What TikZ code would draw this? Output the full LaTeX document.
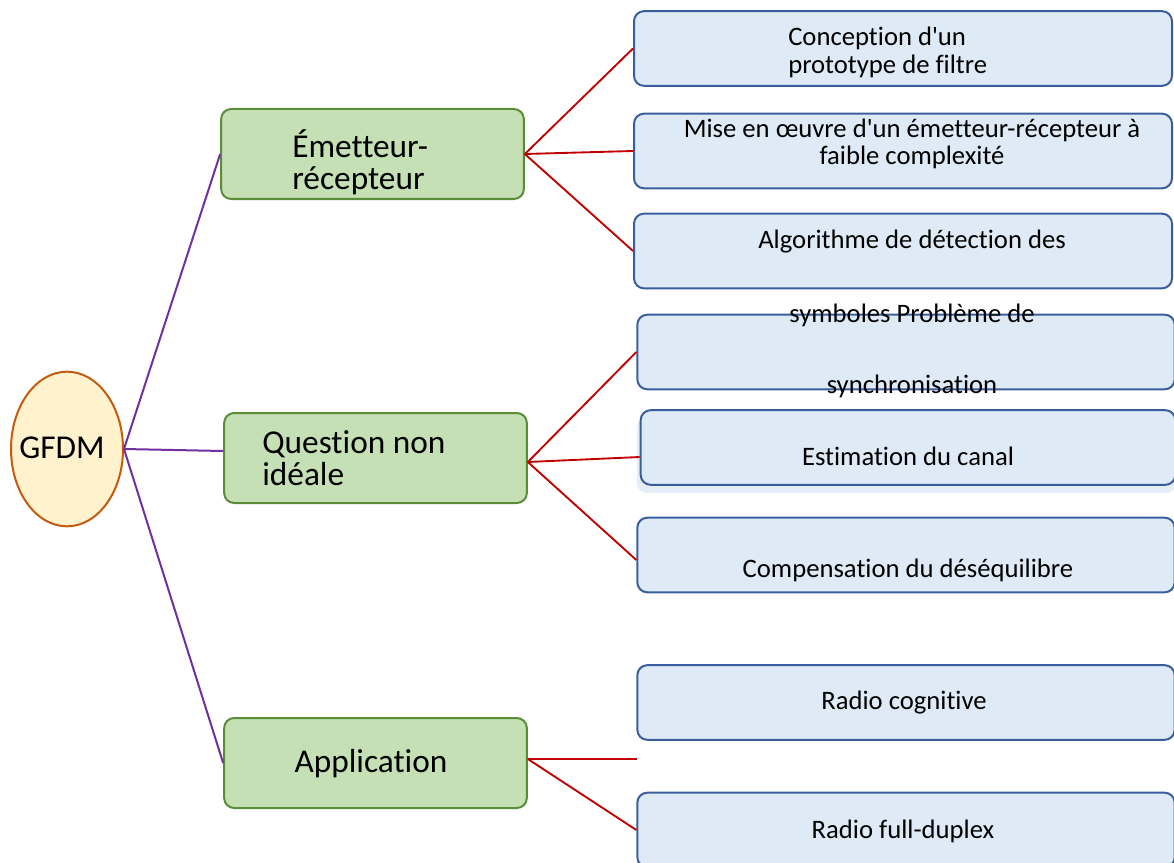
\documentclass[tikz,border=0pt]{standalone}
\usepackage{fontspec}
\newfontfamily\calfont{Carlito}[Ligatures=NoCommon]
\usetikzlibrary{calc,shapes.geometric}
\definecolor{gfill}{HTML}{C5E0B4}
\definecolor{gdraw}{HTML}{5B8C3A}
\definecolor{bfill}{HTML}{DEEBF7}
\definecolor{bshadow}{HTML}{E4EDF8}
\definecolor{bdraw}{HTML}{3A5E9B}
\definecolor{efill}{HTML}{FFF2CC}
\definecolor{edraw}{HTML}{C55A11}
\definecolor{purp}{HTML}{7030A0}
\definecolor{redl}{HTML}{C00000}
\tikzset{
  greenbox/.style={draw=gdraw, fill=gfill, line width=1.5pt, rounded corners=7.5pt, inner sep=0pt},
  bluebox/.style={draw=bdraw, fill=bfill, line width=1.5pt, rounded corners=7.5pt, inner sep=0pt},
  bigtxt/.style={inner sep=0pt, font=\calfont\fontsize{25}{24}\selectfont},
  smalltxt/.style={inner sep=0pt, font=\calfont\fontsize{20}{20}\selectfont},
  purpline/.style={draw=purp, line width=1.5pt},
  redline/.style={draw=redl, line width=1.4pt},
}
\begin{document}
\begin{tikzpicture}[x=0.75pt,y=-0.75pt]
\useasboundingbox (0,0) rectangle (1174,863);
% root
\node[ellipse, draw=edraw, fill=efill, line width=1.5pt, minimum width=84pt, minimum height=116pt, inner sep=0pt] (root) at (67,449) {};
\node[bigtxt] (rootT) at (62,448) {GFDM};
% green boxes
\node[greenbox, minimum width=227pt, minimum height=67.5pt] (g1) at (372.5,154) {};
\node[greenbox, minimum width=227pt, minimum height=67.5pt] (g2) at (375.5,458) {};
\node[greenbox, minimum width=227pt, minimum height=67.5pt] (g3) at (375.5,763) {};
\node[bigtxt, align=left, anchor=west] (g1T) at (292,162) {Émetteur-\\récepteur};
\node[bigtxt, align=left, anchor=west] (g2T) at (262,458) {Question non\\idéale};
\node[bigtxt] (g3T) at (371,764) {Application};
% blue boxes
\fill[bshadow, rounded corners=7.5pt] (637,418) rectangle (1176,493);
\node[bluebox, minimum width=403.5pt, minimum height=56pt] (b1) at (903,48.5) {};
\node[bluebox, minimum width=403.5pt, minimum height=56pt] (b2) at (903,151) {};
\node[bluebox, minimum width=403.5pt, minimum height=56pt] (b3) at (903,251) {};
\node[bluebox, minimum width=403pt, minimum height=56pt] (b4) at (906,352) {};
\node[bluebox, minimum width=401pt, minimum height=56pt] (b5) at (908,447.5) {};
\node[bluebox, minimum width=403pt, minimum height=56pt] (b6) at (906,555) {};
\node[bluebox, minimum width=403pt, minimum height=56pt] (b7) at (906,702.5) {};
\node[bluebox, minimum width=403pt, minimum height=56pt] (b8) at (906,830) {};
% blue texts
\node[smalltxt, align=left, anchor=west, font=\calfont\fontsize{20}{21}\selectfont] (b1T) at (788,52) {Conception d'un\\prototype de filtre};
\node[smalltxt, align=center] (b2T) at (912,144) {Mise en œuvre d'un émetteur-récepteur à\\faible complexité};
\node[smalltxt] (b3T) at (912,242) {Algorithme de détection des};
\node[smalltxt] (b4aT) at (912,315) {symboles Problème de};
\node[smalltxt] (b4bT) at (912,386) {synchronisation};
\node[smalltxt] (b5T) at (908,456) {Estimation du canal};
\node[smalltxt] (b6T) at (908,570) {Compensation du déséquilibre};
\node[smalltxt] (b7T) at (904,703) {Radio cognitive};
\node[smalltxt] (b8T) at (903,831) {Radio full-duplex};
% purple connectors
\draw[purpline] (root.east) -- (g1.west);
\draw[purpline] (root.east) -- ($(g2.west)+(0,-7)$);
\draw[purpline] (root.east) -- (g3.west);
% red connectors
\draw[redline] (g1.east) -- (b1.west);
\draw[redline] (g1.east) -- (b2.west);
\draw[redline] (g1.east) -- (b3.west);
\coordinate (g2r) at ($(g2.east)+(0,4)$);
\draw[redline] (g2r) -- (b4.west);
\draw[redline] (g2r) -- ($(b5.west)+(0,9.5)$);
\draw[redline] (g2r) -- ($(b6.west)+(0,5)$);
\coordinate (g3r) at ($(g3.east)+(0,-4)$);
\coordinate (free) at (637,759);
\draw[redline] (g3r) -- (free);
\draw[redline] (g3r) -- (b8.west);
\end{tikzpicture}
\end{document}
